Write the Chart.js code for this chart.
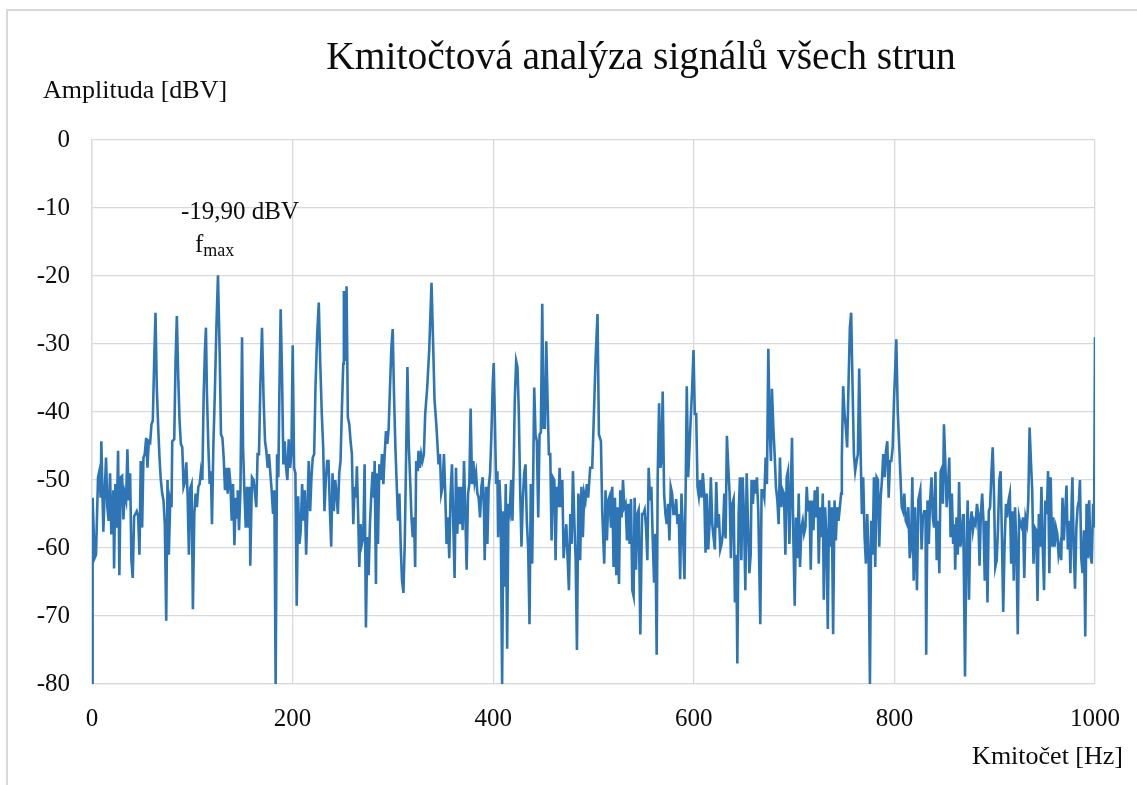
<!DOCTYPE html>
<html>
<head>
<meta charset="utf-8">
<script src="https://cdn.jsdelivr.net/npm/chart.js@4.4.1/dist/chart.umd.min.js"></script>
<style>
  html, body { margin: 0; padding: 0; background: #fff; }
  #wrap { width: 1137px; height: 785px; }
</style>
</head>
<body>
<div id="wrap"><canvas id="myChart" width="1137" height="785"></canvas></div>
<script>
// texts
const chartTitle = 'Kmitočtová analýza signálů všech strun';
const yAxisTitle = 'Amplituda [dBV]';
const xAxisTitle = 'Kmitočet [Hz]';

// axes
const xTicks = [0, 200, 400, 600, 800, 1000];
const yTicks = [0, -10, -20, -30, -40, -50, -60, -70, -80];

// maximum (annotation)
const peakHz = 125.6;
const peakDbv = -19.9;
const peakLabel = '-19,90 dBV';

// spectrum as [Hz, dBV]
const band0 = [[0,-80],[0.6,-52.6],[2.6,-61.5],[4,-61],[6,-49.6],[7.3,-48.7],[8.6,-52.6],[9.3,-44.3],[11.3,-57.6],[12.6,-52],[14,-46.7],[15.3,-54],[16.6,-56],[18,-49],[19.3,-58],[21.3,-51.5],[22,-63],[23.3,-50.6],[24.6,-57],[26,-45.7],[27.3,-64],[28.6,-49.6],[30,-49.4],[31.3,-55.8],[32.6,-52],[34,-53],[35.3,-45.5],[36.6,-53],[38,-49],[39.3,-61.8],[40.6,-64.4],[42,-55.3],[43.3,-55],[44.6,-54.6],[46,-55.3],[47.3,-61],[48.6,-47.2],[50,-57],[51.3,-46.7],[52.6,-46.2],[54,-43.8],[55.3,-48.2],[56.6,-44.3],[58,-44.5],[59.3,-41.8],[60.6,-41.3],[62,-32.5],[63.3,-25.4],[64.6,-36.4],[66,-42.3],[67.3,-46.7],[68.6,-50],[70,-52],[71.3,-53],[72.6,-56.5],[74,-70.7],[75.3,-50],[76.6,-61],[78,-53],[79.3,-54],[80,-44.3],[82,-44],[83.3,-32.5],[84.6,-25.9],[86,-35],[87.3,-41.3],[88.6,-44.7],[90,-45.2],[91.3,-51],[92.6,-50.3],[94,-47.4],[95.3,-52],[96.6,-61],[98,-51.2],[99.3,-50.6],[100.6,-69],[102,-55],[103.3,-52],[104.6,-54],[106,-51],[107.3,-50.6],[108.6,-48.7],[110,-50],[111.3,-37.8],[112.6,-30.9],[113.6,-27.6],[114.6,-37.4],[116,-45],[117.3,-50.6],[118.6,-48.7],[119.6,-56.5],[121,-45],[122.3,-38.2],[124,-27.6],[125.6,-19.9],[127.3,-31.4],[128.6,-43.3],[130,-43.8],[131.3,-46.7],[132.6,-51.5],[134,-48.2],[135.3,-52],[136.6,-48.2],[138,-50.6],[139.3,-56],[140.6,-50.6],[142,-59.6],[143.3,-52.6],[144.6,-55.5],[145.3,-51.5],[146.6,-57.4],[148,-51.5],[149.6,-29],[150.6,-45.2],[152,-52],[153.3,-57],[154.6,-51],[156,-57],[157.3,-51]];
const band1 = [[157.8,-62.6],[159.5,-49.6],[161.1,-50],[162.5,-52],[163.8,-54],[165.1,-46.2],[166.5,-46.2],[167.8,-36.4],[169.5,-27.6],[171.1,-38.2],[172.5,-44.3],[173.8,-45.7],[175.1,-48.2],[176.5,-46.2],[177.8,-49],[179.1,-51.5],[180.5,-55],[181.8,-51.5],[183.1,-80],[184.5,-46.2],[185.8,-49.6],[186.8,-37.4],[188.1,-24.9],[189.5,-35],[190.8,-47.7],[192.1,-44.3],[193.5,-48.2],[194.8,-50],[196.1,-44],[197.5,-48.2],[198.8,-46.2],[200.1,-30.2],[201.5,-48.2],[202.8,-49],[204.1,-68.5],[205.5,-52.4],[206.8,-59.4],[208.1,-57.4],[209.5,-50.6],[210.8,-56],[212.1,-51.5],[213.5,-61],[214.8,-54],[216.1,-47.2],[217.5,-54.6],[218.8,-49.6],[220.1,-46.7],[221.5,-46.2],[222.8,-36.4],[224.5,-28.6],[226.1,-23.9],[227.5,-32.5],[229.1,-40.3],[230.5,-45.2],[231.8,-54.6],[233.1,-50],[234.5,-47.2],[235.8,-47.2],[237.1,-54],[238.5,-59.8],[239.8,-49],[241.1,-54.6],[242.5,-50],[243.8,-52],[245.1,-55],[246.5,-49],[247.8,-47.2],[249.1,-39.8],[250.5,-32.9],[251.1,-22.2],[252.5,-32.5],[253.8,-21.5],[255.1,-40.8],[256.5,-41.8],[257.8,-44.3],[259.1,-46.2],[260.5,-56.5],[261.8,-51],[263.1,-52.6],[264.1,-48],[265.5,-56],[266.5,-62.8],[267.8,-56.5],[269.1,-59.4],[270.5,-58.4],[271.8,-47.7],[273.1,-71.7],[274.5,-58.4],[275.8,-64],[277.1,-56.5],[278.5,-52],[279.8,-48.8],[281.1,-52.6],[281.8,-47.2],[283.1,-65.3],[283.8,-49],[285.1,-59.4],[286.5,-47.7],[287.8,-50],[289.1,-46.2],[290.5,-50.6],[291.8,-46.2],[293.1,-42.8],[294.5,-44.7],[295.8,-42.3],[297.1,-36.4],[298.5,-30.5],[299.8,-27.8],[301.1,-37.4],[302.5,-45.2],[303.8,-50.6],[305.1,-56],[306.5,-52],[307.8,-59.8],[309.1,-64.8],[310.5,-66.6],[311.8,-59.4],[313.1,-47.2],[314.5,-33.4],[315.8,-44.7],[317.1,-49.6],[318.5,-55.5],[319.8,-58.4],[321.1,-55.5]];
const band2 = [[322.2,-62.8],[323.2,-47.2],[324.9,-48.7],[325.5,-45.7],[326.9,-48.2],[328.2,-46.2],[329.5,-47.2],[330.9,-46.2],[332.2,-40.3],[334.2,-36.4],[336.2,-30.9],[338.5,-21],[340.2,-30.5],[341.5,-38.2],[343.5,-42.3],[345.5,-47.7],[346.9,-46.2],[348.2,-52],[349.5,-51],[350.9,-46.2],[352.2,-52],[353.5,-59.4],[354.9,-55.5],[356.2,-61.5],[357.5,-52],[358.9,-47.7],[360.2,-56.5],[361.5,-64.4],[362.9,-48.2],[364.2,-57.9],[365.5,-51],[366.9,-56.5],[368.2,-51],[369.5,-57.4],[370.9,-47.2],[372.2,-55],[373.5,-63.2],[374.9,-52],[376.2,-50.6],[377.5,-39.5],[378.9,-50.6],[380.2,-47.2],[381.5,-50.3],[382.9,-49],[384.2,-52],[385.5,-52.6],[386.9,-55.5],[388.2,-51],[389.5,-49.6],[390.9,-55],[391.5,-61.8],[392.9,-51],[394.2,-59.4],[395.5,-51],[396.9,-49],[398.2,-43.3],[399.5,-36],[400.5,-32.8],[401.5,-39.8],[402.9,-50.6],[404.2,-48.7],[404.9,-58.4],[406.2,-50],[407.5,-54.6],[408.9,-80],[410.2,-54.6],[411.2,-65.7],[412.5,-50.6],[413.9,-74.8],[415.2,-53.5],[416.5,-54.6],[417.9,-50],[419.2,-56],[420.5,-47.2],[421.5,-38.2],[422.9,-32.5],[424.2,-33.4],[425.5,-39.8],[426.9,-51.5],[428.2,-59.8],[429.5,-53],[430.9,-49],[432.2,-47.7],[433.5,-56],[434.9,-60.2],[436.2,-71.2],[437.5,-50.6],[438.9,-62.3],[440.2,-45.2],[440.9,-36.4],[442.2,-43.3],[443.5,-44.3],[444.9,-55.5],[446.2,-43.3],[447.5,-43],[448.9,-24.1],[450.2,-42.3],[451.5,-42.3],[452.9,-29.6],[454.2,-38.2],[455.5,-46.2],[456.9,-46.2],[458.2,-58.9],[459.5,-49.6],[460.9,-50],[462.2,-61.8],[463.5,-51],[464.9,-54],[466.2,-48.2],[467.5,-54],[468.9,-50],[470.2,-61.5],[471.5,-58.9],[472.9,-56.5],[474.2,-61.5],[475.5,-66.2],[476.9,-55],[478.2,-59.4],[479.5,-48.7],[480.9,-56],[482.2,-61.8],[483.5,-75],[484.9,-52],[486.2,-54.6]];
const band3 = [[486.7,-61.8],[488,-51],[489.4,-58.4],[490.7,-52],[492,-53],[493.4,-50.6],[494.7,-52.6],[496.7,-48.2],[498.7,-48.2],[500,-42.3],[502,-32.5],[504,-25.6],[505.4,-43.3],[507.4,-44.3],[508.7,-54.6],[510.7,-62.3],[512,-51.5],[513.4,-58.9],[514.7,-53],[516,-52.4],[517.4,-57],[518.7,-51],[520,-62.8],[521.4,-52.6],[522.7,-64],[524,-54],[525.4,-65.3],[526.7,-51.5],[528,-55.5],[529.4,-50],[530.7,-54],[532,-53.5],[533.4,-58.9],[534.7,-53.5],[536,-59.4],[537.4,-52.8],[538.7,-66.2],[540,-67.1],[541,-52.6],[542.4,-63.2],[543.7,-55],[545,-54.4],[546.7,-72.7],[548.4,-55],[549.7,-55],[551,-54.4],[552.4,-57],[553.7,-61.8],[555,-48.2],[556.4,-53],[557.7,-51],[559,-58.4],[560.4,-65.1],[561.7,-57.9],[563,-75.7],[564,-49.6],[565.4,-38.7],[566.7,-48.2],[567.7,-47.2],[569,-37],[570.4,-52],[571.7,-55],[573,-56.5],[574.4,-53.5],[575.7,-58.9],[577,-51],[578.4,-52],[579.7,-55],[581,-55],[582.4,-52.8],[583.7,-56.5],[585,-55],[586.4,-64.6],[587.7,-52],[589,-57],[590.7,-64.6],[592,-50],[593,-36.2],[594.4,-49.6],[595.7,-45.2],[597,-40.8],[598.4,-36.4],[599.7,-30.9],[601,-40.3],[602.4,-40.3],[603.7,-51],[605,-52.4],[606.4,-50],[607.7,-52.6],[609,-49],[610.4,-52],[611.7,-60.7],[613,-52],[614.4,-60.2],[615.7,-56.5],[617,-49.6],[618.4,-56.5],[619.7,-58.4],[621,-60.2],[622.4,-50.3],[623.7,-57],[625,-55],[626.4,-60.2],[627.7,-59.4],[629,-57.9],[630.4,-52],[631.7,-58.6],[633,-43.5],[634.4,-48.2],[635.7,-52],[637,-61.5],[638.4,-53.5],[639.7,-52.8],[641,-68],[642.4,-61],[643.4,-77],[644.7,-55],[646,-49.6],[647.4,-61.8],[648.7,-49.6],[650,-55],[651.4,-66.2],[652.7,-49],[654,-56],[655.4,-63.7],[656.7,-61]];
const band4 = [[657.6,-50],[658.9,-53.5],[660.3,-50],[661.6,-52],[662.9,-49.6],[664.3,-54.6],[666.3,-71.2],[667.6,-51.5],[668.9,-51.5],[670.3,-52.6],[671.6,-46.7],[672.9,-50.6],[674.3,-30.7],[675.6,-42.3],[676.9,-47.2],[677.9,-36.6],[679.3,-42.3],[680.6,-46.2],[681.9,-51],[683.3,-53],[684.6,-56.5],[685.9,-46.7],[687.3,-54],[688.6,-51.5],[689.9,-52],[691.3,-61],[692.6,-49.6],[693.9,-48.7],[695.3,-59.4],[696.6,-52],[697.9,-43.8],[699.3,-58.9],[700.6,-68.5],[701.9,-55.5],[703.3,-61.5],[704.6,-52],[705.9,-62.8],[707.3,-57],[708.6,-56],[709.9,-57.9],[711.3,-57],[712.6,-51],[713.9,-54.6],[715.3,-53],[716.6,-63.2],[717.9,-53],[719.3,-57.4],[720.6,-51.5],[721.9,-55.5],[723.3,-51],[724.6,-62.3],[725.9,-54],[727.3,-58.4],[728.6,-52],[729.6,-67.6],[730.9,-54],[732.3,-58.4],[733.6,-71.9],[734.9,-53],[736.3,-59.8],[737.6,-54],[738.9,-72.7],[740.3,-53],[741.6,-58.9],[742.9,-54],[744.3,-56],[745.6,-54],[746.9,-52],[747.6,-46.7],[748.9,-36.2],[750.3,-40.3],[751.6,-42.3],[752.9,-45.2],[754.3,-35.7],[755.6,-27.6],[756.9,-25.4],[758.3,-36.4],[759.6,-46.2],[760.9,-48.7],[762.3,-47.2],[763.6,-46.2],[764.9,-33.6],[766.3,-45.7],[767.6,-55],[768.9,-49.6],[770.3,-58.4],[771.6,-62.3],[772.9,-55],[774.3,-61],[775.6,-80],[776.9,-56],[778.3,-61],[779.6,-49.6],[780.9,-62.8],[782.3,-49.6],[783.6,-50],[784.9,-59.8],[786.3,-52.6],[787.6,-50],[788.9,-46.2],[790.3,-49.6],[791.6,-45.7],[792.9,-44.3],[794.3,-52.6],[795.6,-47.2],[796.9,-47.2],[798.3,-45.2],[799.6,-38.2],[800.9,-33.4],[801.9,-29.3],[803.3,-39.8],[804.6,-44.3],[805.9,-49],[807.3,-54],[808.6,-54.6],[809.9,-52],[811.3,-56],[812.6,-56.5],[813.9,-54],[815.3,-61.5],[816.6,-59.8],[817.9,-49.6]];
const band5 = [[819.2,-64.8],[820.5,-54],[822.5,-66.2],[823.8,-53],[825.8,-51.5],[827.1,-60.2],[828.4,-55.5],[829.7,-54.6],[831,-54.6],[831.7,-75.7],[833,-53],[834.3,-59.4],[835.6,-53],[837,-49.6],[838.3,-55.5],[839.6,-57],[840.9,-48.8],[842.2,-61.8],[843.5,-56],[844.8,-63.7],[846.1,-48.7],[847.5,-48.2],[848.4,-53.5],[849.4,-41.8],[850.7,-47.2],[852.1,-54],[853.4,-51],[854.7,-46.7],[856,-58.4],[857.3,-52],[858.6,-59.4],[859.9,-56.5],[860.6,-63.2],[861.9,-55.5],[863.2,-61],[864.5,-50.3],[865.8,-59.8],[867.2,-57.9],[868.5,-55],[869.1,-61.5],[870.4,-78.9],[871.8,-59.4],[873.1,-53],[874.4,-67.6],[875.7,-56.5],[877,-54.6],[878.3,-57.4],[879.6,-56],[880.9,-56.5],[882.3,-53.5],[883.6,-55],[884.9,-62.6],[886.2,-55],[887.5,-52],[888.8,-56],[890.1,-64.8],[891.5,-56],[892.8,-68],[894.1,-54.6],[895.4,-54],[896.7,-49],[898,-45.2],[899.3,-52],[900.6,-62.8],[902,-61.8],[903.3,-57],[904.6,-50],[905.9,-48.7],[907.2,-58.4],[908.5,-69.4],[909.8,-59.8],[911.2,-53.5],[912.5,-55.5],[913.8,-53],[915.1,-52],[916.4,-62.3],[917.7,-54.6],[919,-64.8],[920.3,-54],[921.7,-60.2],[923,-72.7],[924.3,-55.5],[925.6,-56.5],[926.9,-57],[928.2,-55.5],[929.5,-64.4],[930.8,-55.5],[932.2,-56.5],[933.5,-53],[934.8,-42.3],[936.1,-47.2],[937.4,-51.5],[938.7,-62.3],[940,-57],[941.4,-57.4],[942.7,-67.8],[944,-55],[945.3,-59.8],[946.6,-51],[947.9,-59.8],[949.2,-66.2],[950.5,-53],[951.9,-55],[953.2,-48.7],[954.5,-63.7],[955.8,-49.6],[957.1,-59.8],[958.4,-55.5],[959.7,-59.8],[961.1,-57],[962.4,-57.9],[963.7,-61],[965,-59.8],[966.3,-61.8],[967.6,-52.6],[968.9,-58.9],[970.2,-55],[971.6,-50.8],[972.9,-60.2],[974.2,-56],[975.5,-63.7],[976.8,-52.6],[977.5,-49.6],[978.8,-60.2],[980.1,-66],[981.4,-57],[982.7,-54],[984,-53],[985,-50],[986.3,-61.5],[987.6,-63.7],[989,-57.4],[990.3,-73],[991.6,-53.5],[992.9,-61.5],[994.2,-53],[995.5,-61],[996.8,-62.3],[998.1,-53.5],[999.1,-57],[1000,-29],[1001,-46.7]];

const spectrum = [].concat(band0, band1, band2, band3, band4, band5).map(p => ({ x: p[0], y: p[1] }));

const fontFamily = '"Liberation Serif", "DejaVu Serif", serif';
const textColor = '#0d0d0d';
const gridColor = '#d9d9d9';

// frame, titles and the f_max label
const decorPlugin = {
  id: 'decor',
  beforeDraw (chart) {
    const ctx = chart.ctx;
    ctx.save();
    ctx.fillStyle = '#fff';
    ctx.fillRect(0, 0, chart.width, chart.height);
    ctx.strokeStyle = gridColor;
    ctx.lineWidth = 2;
    ctx.strokeRect(7, 10, chart.width + 20, chart.height + 20);
    ctx.restore();
  },
  afterDraw (chart) {
    const ctx = chart.ctx;
    const xs = chart.scales.x, ys = chart.scales.y;
    ctx.save();
    ctx.fillStyle = textColor;
    ctx.textBaseline = 'alphabetic';

    ctx.font = '39.5px ' + fontFamily;
    ctx.textAlign = 'center';
    ctx.fillText(chartTitle, 641, 69);

    ctx.font = '26px ' + fontFamily;
    ctx.textAlign = 'left';
    ctx.fillText(yAxisTitle, 43, 98);

    ctx.textAlign = 'right';
    ctx.fillText(xAxisTitle, 1123, 764);

    const px = xs.getPixelForValue(peakHz);
    const py = ys.getPixelForValue(peakDbv);
    ctx.font = '25px ' + fontFamily;
    ctx.textAlign = 'center';
    ctx.fillText(peakLabel, px + 22, py - 56);
    ctx.textAlign = 'left';
    ctx.fillText('f', px - 23, py - 23);
    const fw = ctx.measureText('f').width;
    ctx.font = '18px ' + fontFamily;
    ctx.fillText('max', px - 23 + fw, py - 19);
    ctx.restore();
  }
};

const ctx = document.getElementById('myChart');

const myChart = new Chart(ctx, {
  type: 'line',
  data: {
    datasets: [{
      data: spectrum,
      borderColor: '#2e75b6',
      borderWidth: 2.6,
      pointRadius: 0,
      tension: 0,
      fill: false
    }]
  },
  options: {
    responsive: false,
    animation: false,
    devicePixelRatio: 1,
    layout: { padding: { top: 140, right: 42, bottom: 0, left: 0 } },
    plugins: {
      legend: { display: false },
      title: { display: false },
      tooltip: { enabled: false }
    },
    scales: {
      x: {
        type: 'linear',
        min: xTicks[0],
        max: xTicks[xTicks.length - 1],
        afterBuildTicks: (scale) => { scale.ticks = xTicks.map(v => ({ value: v })); },
        afterFit: (scale) => { scale.height = 101; scale.paddingRight = 0; scale.paddingLeft = 0; },
        ticks: {
          color: textColor, font: { family: fontFamily, size: 25 }, padding: 20, maxRotation: 0,
          callback: (v) => String(v)
        },
        grid: { color: gridColor, lineWidth: 1.3, drawTicks: false },
        border: { color: gridColor, width: 1.3 }
      },
      y: {
        min: yTicks[yTicks.length - 1],
        max: yTicks[0],
        afterBuildTicks: (scale) => { scale.ticks = yTicks.map(v => ({ value: v })); },
        afterFit: (scale) => { scale.width = 92; },
        ticks: {
          color: textColor, font: { family: fontFamily, size: 25 }, padding: 22,
          callback: (v) => String(v)
        },
        grid: { color: gridColor, lineWidth: 1.3, drawTicks: false },
        border: { color: gridColor, width: 1.3 }
      }
    }
  },
  plugins: [decorPlugin]
});
</script>
</body>
</html>
